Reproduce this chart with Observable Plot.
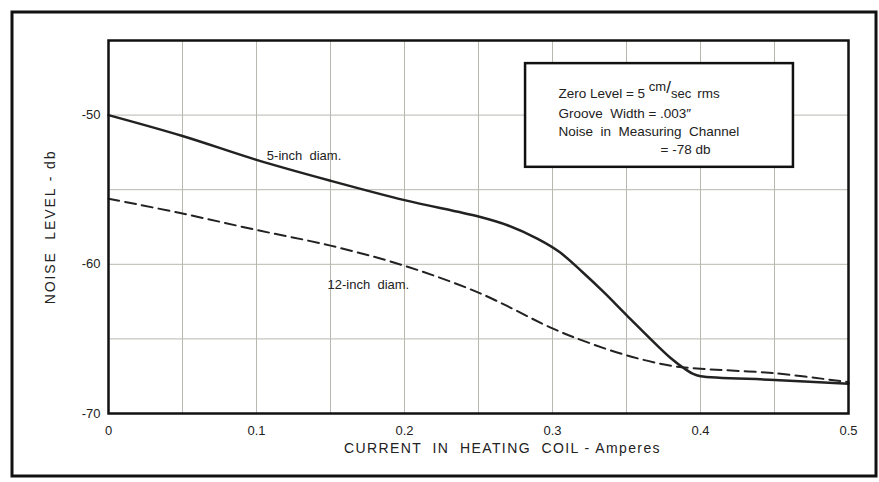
<!DOCTYPE html>
<html>
<head>
<meta charset="utf-8">
<script src="https://cdn.jsdelivr.net/npm/d3@7"></script>
<script src="https://cdn.jsdelivr.net/npm/@observablehq/plot@0.6"></script>
<style>
  html, body { margin: 0; padding: 0; background: #fff; }
  #chart { width: 879px; height: 482px; }
  svg { font-family: "Liberation Sans", "DejaVu Sans", sans-serif; }
</style>
</head>
<body>
<div id="chart"></div>
<script>
// 5-inch diameter (solid)
const current5 = [0, 0.05, 0.1, 0.15, 0.2, 0.25, 0.27, 0.29, 0.305, 0.32, 0.335, 0.35, 0.38, 0.39, 0.395, 0.4, 0.45, 0.5];
const noise5   = [-50, -51.4, -53.0, -54.4, -55.7, -56.8, -57.4, -58.3, -59.2, -60.5, -61.9, -63.4, -66.3, -67.05, -67.35, -67.5, -67.75, -68.0];
// 12-inch diameter (dashed)
const current12 = [0, 0.05, 0.1, 0.15, 0.2, 0.25, 0.3, 0.32, 0.35, 0.38, 0.4, 0.45, 0.5];
const noise12   = [-55.6, -56.6, -57.7, -58.75, -60.1, -61.9, -64.3, -65.1, -66.1, -66.8, -67.0, -67.3, -67.9];

const xTickLabels = [0, 0.1, 0.2, 0.3, 0.4, 0.5];
const yTickLabels = [-50, -60, -70];
const xGrid = [0, 0.05, 0.1, 0.15, 0.2, 0.25, 0.3, 0.35, 0.4, 0.45, 0.5];
const yGrid = [-70, -65, -60, -55, -50, -45];

const curveLabels = ["5-inch  diam.", "12-inch  diam."];
const curveLabelX = [0.107, 0.148];
const curveLabelY = [-52.75, -61.35];

const noteLines = ["Zero Level = 5 ", "Groove  Width = .003\u2033", "Noise  in  Measuring  Channel", "= -78 db"];
const noteX = [0.304, 0.304, 0.304, 0.373];
const noteY = [-48.55, -49.9, -51.1, -52.3];
const noteBox = [{x1: 0.2818, x2: 0.4628, y1: -53.5, y2: -46.55}];

const s5 = current5.map((x, i) => ({x, y: noise5[i]}));
const s12 = current12.map((x, i) => ({x, y: noise12[i]}));
const labels = curveLabels.map((t, i) => ({t, x: curveLabelX[i], y: curveLabelY[i]}));
const notes = noteLines.map((t, i) => ({t, x: noteX[i], y: noteY[i]}));

const plot = Plot.plot({
  width: 879,
  height: 482,
  marginLeft: 108,
  marginRight: 31,
  marginTop: 40,
  marginBottom: 69,
  x: {domain: [0, 0.5]},
  y: {domain: [-70, -45]},
  style: {background: "#fff", color: "#222"},
  marks: [
    Plot.ruleX(xGrid, {stroke: "#b8b8b0", strokeWidth: 1}),
    Plot.ruleY(yGrid, {stroke: "#b8b8b0", strokeWidth: 1}),
    Plot.rect(noteBox, {x1: "x1", x2: "x2", y1: "y1", y2: "y2", fill: "#fff", stroke: "#111", strokeWidth: 2.5}),
    Plot.line(s12, {x: "x", y: "y", curve: "catmull-rom", stroke: "#222", strokeWidth: 2, strokeDasharray: "11,6"}),
    Plot.line(s5, {x: "x", y: "y", curve: "catmull-rom", stroke: "#222", strokeWidth: 2.5}),
    Plot.frame({stroke: "#111", strokeWidth: 2.5}),
    Plot.text(labels, {x: "x", y: "y", text: "t", textAnchor: "start", fontSize: 13, fill: "#222"}),
    Plot.text(notes, {x: "x", y: "y", text: "t", textAnchor: "start", fontSize: 13.5, fill: "#222", className: "note"}),
    Plot.axisX(xTickLabels, {tickSize: 0, tickPadding: 12, fontSize: 13, tickFormat: d => d === 0 ? "0" : d.toFixed(1), label: null}),
    Plot.axisY(yTickLabels, {tickSize: 0, tickPadding: 8, fontSize: 13, tickFormat: d => "-" + Math.abs(d),
      label: "NOISE  LEVEL - db", labelAnchor: "center", labelArrow: "none", labelOffset: 63}),
    Plot.text(["CURRENT  IN  HEATING  COIL - Amperes"], {frameAnchor: "bottom", dx: 24, dy: 39, fontSize: 14, fill: "#222", text: d => d, className: "xlab"})
  ]
});

document.getElementById("chart").appendChild(plot);
const svg = d3.select(plot);
svg.selectAll(".xlab text").style("letter-spacing", "1.4px");
svg.selectAll("text").filter(function() { return /NOISE/.test(this.textContent); })
  .style("letter-spacing", "1.9px").style("font-size", "14px");

// superscript/subscript for the first note line
const first = svg.select(".note text");
first.append("tspan").attr("dy", -7).attr("font-size", 13).text("cm");
first.append("tspan").attr("dy", 2).attr("font-size", 17).text("/");
first.append("tspan").attr("dy", 5).attr("font-size", 13).text("sec");
first.append("tspan").attr("dy", 0).attr("dx", 6).text("rms");

// outer border
svg.append("rect").attr("x", 12).attr("y", 12).attr("width", 864).attr("height", 464)
  .attr("fill", "none").attr("stroke", "#111").attr("stroke-width", 3);
</script>
</body>
</html>
